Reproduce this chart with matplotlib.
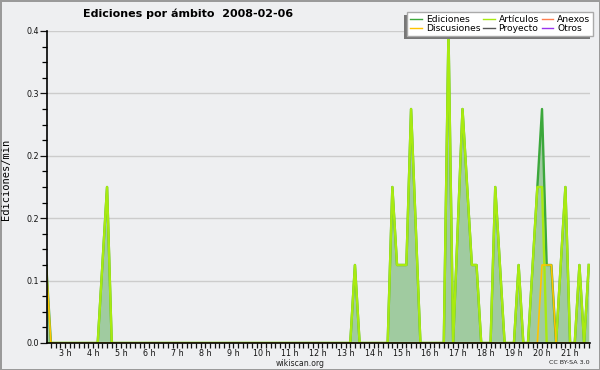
import matplotlib
matplotlib.use("Agg")
import matplotlib.pyplot as plt
from matplotlib.ticker import MultipleLocator, FuncFormatter
from matplotlib.patches import Rectangle

# time of each point (HH:MM) and edits per minute for each namespace
times = ["02:20", "02:30", "04:10", "04:20", "04:30", "04:40", "13:10", "13:20", "13:30",
         "14:30", "14:40", "14:50", "15:00", "15:10", "15:20", "15:30", "15:40",
         "16:30", "16:40", "16:50", "17:00", "17:10", "17:20", "17:30", "17:40", "17:50",
         "18:10", "18:20", "18:30", "18:40", "19:00", "19:10", "19:20",
         "19:30", "19:40", "19:50", "20:00", "20:10", "20:20", "20:30", "20:40", "20:50",
         "21:00", "21:10", "21:20", "21:30", "21:40"]

ediciones = [0.1, 0, 0, 0.1, 0.2, 0, 0, 0.1, 0,
             0, 0.2, 0.1, 0.1, 0.1, 0.3, 0.15, 0,
             0, 0.4, 0, 0.15, 0.3, 0.2, 0.1, 0.1, 0,
             0, 0.2, 0.1, 0, 0, 0.1, 0,
             0, 0.1, 0.2, 0.3, 0.1, 0.1, 0, 0.1, 0.2,
             0, 0, 0.1, 0, 0.1]

articulos = [0, 0, 0, 0.1, 0.2, 0, 0, 0.1, 0,
             0, 0.2, 0.1, 0.1, 0.1, 0.3, 0.15, 0,
             0, 0.4, 0, 0.15, 0.3, 0.2, 0.1, 0.1, 0,
             0, 0.2, 0.1, 0, 0, 0.1, 0,
             0, 0.1, 0.2, 0.2, 0, 0, 0, 0.1, 0.2,
             0, 0, 0.1, 0, 0.1]

discusiones = [0.1, 0, 0, 0, 0, 0, 0, 0, 0,
               0, 0, 0, 0, 0, 0, 0, 0,
               0, 0, 0, 0, 0, 0, 0, 0, 0,
               0, 0, 0, 0, 0, 0, 0,
               0, 0, 0, 0.1, 0.1, 0.1, 0, 0, 0,
               0, 0, 0, 0, 0]

proyecto = [0] * len(times)
anexos = [0] * len(times)
otros = [0] * len(times)

hours = [int(t[:2]) + int(t[3:]) / 60 for t in times]

bg = "#eeeff1"
fig = plt.figure(figsize=(6, 3.7), dpi=100, facecolor=bg)
fig.patch.set_edgecolor("#9a9a9a")
fig.patch.set_linewidth(2)
ax = fig.add_axes([47 / 600, 27 / 370, 543 / 600, 312 / 370])
ax.set_facecolor(bg)

# zero series first so they sit under the axis line
ax.plot(hours, proyecto, color="#555555", lw=0.6, zorder=0.5, label="Proyecto")
ax.plot(hours, anexos, color="#ff7f50", lw=0.6, zorder=0.5, label="Anexos")
ax.plot(hours, otros, color="#9933ee", lw=0.6, zorder=0.5, label="Otros")

ax.fill_between(hours, ediciones, 0, color="#a0cba0", lw=0, zorder=1)
ax.plot(hours, ediciones, color="#3ca83c", lw=1.7, zorder=2, label="Ediciones")
ax.plot(hours, articulos, color="#a8ea10", lw=1.7, zorder=2.1, label="Artículos")
ax.plot(hours, discusiones, color="#ffc400", lw=1.2, zorder=2.2, label="Discusiones")

ax.set_xlim(2.36, 21.71)
ax.set_ylim(0, 0.4)

ax.xaxis.set_major_locator(MultipleLocator(1))
ax.xaxis.set_minor_locator(MultipleLocator(1 / 6))
ax.xaxis.set_major_formatter(FuncFormatter(lambda v, p: f"{int(round(v))} h"))
ax.yaxis.set_major_locator(MultipleLocator(0.08))
ax.yaxis.set_minor_locator(MultipleLocator(0.02))
ax.yaxis.set_major_formatter(FuncFormatter(lambda v, p: f"{v:.1f}"))

ax.tick_params(axis="x", which="both", direction="out", length=3.5, width=0.9,
               labelsize=5.8, pad=0.5, colors="#111111")
ax.tick_params(axis="y", which="major", direction="out", length=5, width=0.9,
               labelsize=5.8, pad=0.5, colors="#111111")
ax.tick_params(axis="y", which="minor", direction="out", length=3.5, width=0.9)

ax.grid(axis="y", which="major", color="#cccccc", lw=1)
ax.set_axisbelow(True)
for s in ["top", "right"]:
    ax.spines[s].set_visible(False)
for s in ["left", "bottom"]:
    ax.spines[s].set_linewidth(1.2)
    ax.spines[s].set_zorder(3)

ax.set_ylabel("Ediciones/min", family="DejaVu Sans Mono", fontsize=7.5)
ax.yaxis.set_label_coords(-36 / 543, (343 - 179) / 312)

fig.text(188 / 600, 1 - 14 / 370, "Ediciones por ámbito  2008-02-06",
         ha="center", va="center", fontsize=8, fontweight="bold")
fig.text(300 / 600, 1 - 363 / 370, "wikiscan.org", ha="center", va="center",
         fontsize=5.6, color="#222222")
fig.text(590 / 600, 1 - 363 / 370, "CC BY-SA 3.0", ha="right", va="center",
         fontsize=4.6, color="#222222")

handles, labels = ax.get_legend_handles_labels()
order = ["Ediciones", "Discusiones", "Artículos", "Proyecto", "Anexos", "Otros"]
h_map = dict(zip(labels, handles))
leg = ax.legend([h_map[k] for k in order], order, ncol=3, loc="upper right",
                bbox_to_anchor=(593 / 600, 1 - 12 / 370), bbox_transform=fig.transFigure,
                fontsize=6.6, frameon=True, fancybox=False, framealpha=1,
                edgecolor="#aaaaaa", facecolor="white", handlelength=1.3,
                handletextpad=0.4, columnspacing=0.3, labelspacing=0.05,
                borderpad=0.3, borderaxespad=0)
leg.get_frame().set_linewidth(1)
for ln in leg.get_lines():
    ln.set_linewidth(1)
leg.set_zorder(6)

# shadow on the left and bottom of the legend box
fig.canvas.draw()
bb = leg.get_window_extent()
shadow = Rectangle((bb.x0 - 3, bb.y0 - 3), bb.width, bb.height, transform=None,
                   facecolor="#777777", edgecolor="none", clip_on=False, zorder=5.9)
ax.add_patch(shadow)

plt.savefig("out.png", dpi=100, facecolor=bg, edgecolor=fig.patch.get_edgecolor())
